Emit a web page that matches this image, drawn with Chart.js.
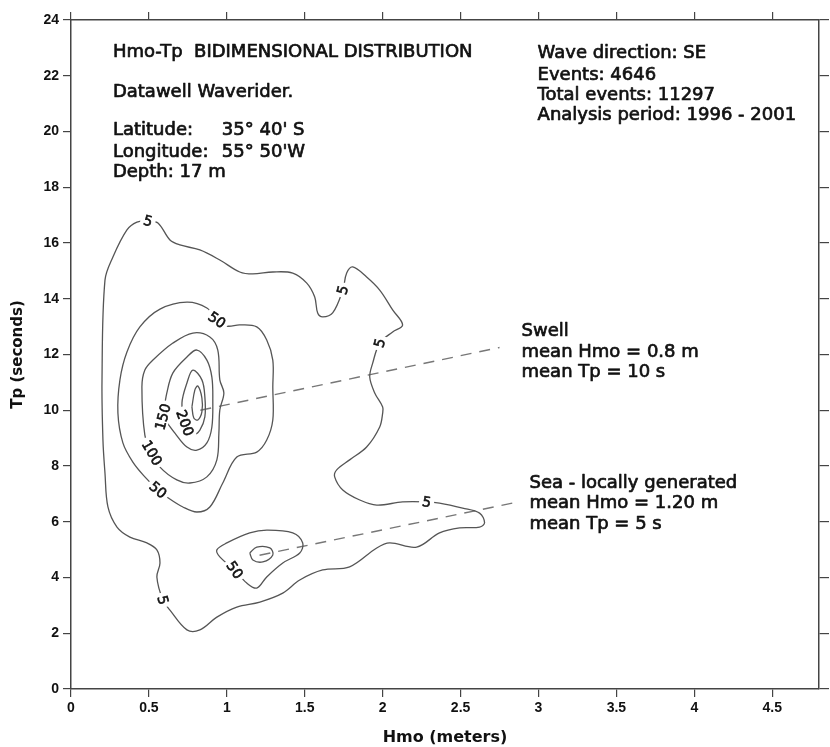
<!DOCTYPE html>
<html>
<head>
<meta charset="utf-8">
<script src="https://cdn.jsdelivr.net/npm/chart.js@4.4.1/dist/chart.umd.min.js"></script>
<style>
  html, body { margin: 0; padding: 0; background: #fff; }
  canvas { display: block; }
</style>
</head>
<body>
<canvas id="myChart" width="830" height="747"></canvas>
<script>
'use strict'

// tick labels
let xTickLabels = ['0', '0.5', '1', '1.5', '2', '2.5', '3', '3.5', '4', '4.5']
let yTickLabels = ['0', '2', '4', '6', '8', '10', '12', '14', '16', '18', '20', '22', '24']

// contour lines, points are [Hmo, Tp], each one starts (and ends) at its label
let contour5 = [
  [0.494, 16.79], [0.558, 16.72], [0.635, 16.11], [0.699, 15.93], [0.827, 15.75], [0.955, 15.39],
  [1.083, 14.96], [1.167, 14.89], [1.295, 14.96], [1.423, 14.92], [1.513, 14.56], [1.564, 14.06],
  [1.583, 13.49], [1.615, 13.35], [1.679, 13.49], [1.744, 14.31], [1.769, 14.92], [1.808, 15.14],
  [1.897, 14.78], [1.981, 14.31], [2.064, 13.60], [2.128, 13.06], [2.064, 12.81], [1.981, 12.41],
  [1.936, 11.69], [1.917, 11.19], [1.949, 10.62], [2.000, 10.12], [2.000, 9.90], [1.981, 9.40],
  [1.897, 8.68], [1.788, 8.22], [1.705, 7.86], [1.692, 7.61], [1.744, 7.14], [1.853, 6.78],
  [1.962, 6.60], [2.128, 6.71], [2.282, 6.71], [2.365, 6.67], [2.513, 6.49], [2.622, 6.31],
  [2.654, 5.96], [2.622, 5.81], [2.494, 5.78], [2.365, 5.60], [2.218, 5.09], [2.045, 5.24],
  [1.962, 5.06], [1.788, 4.38], [1.615, 4.27], [1.468, 3.91], [1.359, 3.44], [1.212, 3.12],
  [1.064, 2.94], [0.936, 2.58], [0.827, 2.12], [0.744, 2.12], [0.635, 2.83], [0.590, 3.19],
  [0.551, 4.02], [0.571, 4.52], [0.551, 4.99], [0.487, 5.24], [0.378, 5.45], [0.295, 5.81],
  [0.237, 6.53], [0.218, 7.75], [0.205, 8.93], [0.199, 11.09], [0.218, 14.67], [0.269, 15.50],
  [0.359, 16.47], [0.423, 16.75], [0.494, 16.79]
]
let contour50 = [
  [0.936, 13.24], [0.872, 13.67], [0.744, 13.88], [0.571, 13.63], [0.442, 12.99], [0.359, 12.09],
  [0.314, 11.09], [0.301, 9.90], [0.333, 8.83], [0.397, 8.14], [0.474, 7.61], [0.558, 7.14],
  [0.615, 6.89], [0.718, 6.53], [0.808, 6.35], [0.891, 6.53], [0.974, 7.39], [1.064, 8.32],
  [1.192, 8.50], [1.256, 8.93], [1.295, 9.65], [1.295, 10.83], [1.295, 11.80], [1.256, 12.52],
  [1.192, 12.99], [1.083, 13.06], [1.000, 13.02], [0.936, 13.24]
]
let contour100 = [
  [0.519, 8.47], [0.474, 9.11], [0.455, 10.83], [0.474, 11.44], [0.526, 11.80], [0.654, 12.41],
  [0.782, 12.77], [0.891, 12.63], [0.942, 12.16], [0.955, 11.09], [0.981, 10.62], [0.955, 10.01],
  [0.949, 9.18], [0.936, 8.22], [0.872, 7.61], [0.763, 7.39], [0.679, 7.50], [0.571, 7.96],
  [0.519, 8.47]
]
let contour150 = [
  [0.590, 9.76], [0.615, 10.62], [0.654, 11.34], [0.744, 11.91], [0.808, 12.16], [0.872, 11.80],
  [0.904, 11.19], [0.910, 10.37], [0.904, 9.40], [0.872, 8.83], [0.808, 8.57], [0.744, 8.68],
  [0.667, 9.18], [0.590, 9.76]
]
let contour200 = [
  [0.731, 9.54], [0.712, 10.26], [0.744, 10.98], [0.782, 11.44], [0.840, 11.09], [0.859, 10.48],
  [0.859, 9.76], [0.827, 9.29], [0.782, 9.11], [0.731, 9.54]
]
let contour250 = [
  [0.776, 10.12], [0.795, 10.73], [0.814, 10.87], [0.840, 10.44], [0.840, 9.94], [0.814, 9.65],
  [0.788, 9.72], [0.776, 10.12]
]
let seaContour50 = [
  [1.051, 4.27], [0.955, 4.74], [0.936, 4.99], [1.000, 5.24], [1.147, 5.60], [1.256, 5.70],
  [1.423, 5.60], [1.487, 5.24], [1.468, 4.88], [1.359, 4.52], [1.256, 4.02], [1.192, 3.62],
  [1.128, 3.80], [1.051, 4.27]
]
let seaContour100 = [
  [1.147, 4.88], [1.192, 5.09], [1.276, 5.06], [1.295, 4.81], [1.231, 4.56], [1.167, 4.63], [1.147, 4.88]
]

// leader lines from the two peaks to their notes
let swellLeader = [[0.83, 10.0], [2.75, 12.25]]
let seaLeader = [[1.21, 4.8], [2.86, 6.7]]

// contour level labels
let levelText = ['5', '5', '5', '5', '5', '50', '50', '50', '100', '150', '200']
let levelHmo = [0.494, 1.744, 1.981, 2.282, 0.590, 0.936, 0.558, 1.051, 0.519, 0.590, 0.731]
let levelTp = [16.79, 14.31, 12.41, 6.71, 3.19, 13.24, 7.14, 4.27, 8.47, 9.76, 9.54]
let levelAngle = [15, -75, -75, 10, 75, 35, 40, 55, 60, -75, 70]

// notes
let headerLines = ['Hmo-Tp  BIDIMENSIONAL DISTRIBUTION', 'Datawell Waverider.']
let siteNames = ['Latitude:', 'Longitude:', 'Depth: 17 m']
let siteValues = ['35° 40\' S', '55° 50\'W', '']
let recordLines = ['Wave direction: SE', 'Events: 4646', 'Total events: 11297', 'Analysis period: 1996 - 2001']
let swellLines = ['Swell', 'mean Hmo = 0.8 m', 'mean Tp = 10 s']
let seaLines = ['Sea - locally generated', 'mean Hmo = 1.20 m', 'mean Tp = 5 s']

// where the note blocks go (axis units)
let noteBlocks = [
  { lines: headerLines, x: 0.269, y: [22.85, 21.42] },
  { lines: siteNames, x: 0.269, y: [20.05, 19.26, 18.55] },
  { lines: siteValues, x: 0.968, y: [20.05, 19.26, 18.55] },
  { lines: recordLines, x: 2.994, y: [22.82, 22.03, 21.31, 20.59] },
  { lines: swellLines, x: 2.891, y: [12.84, 12.09, 11.37] },
  { lines: seaLines, x: 2.942, y: [7.39, 6.67, 5.92] }
]

const lineColor = '#555'
const axisColor = '#444'
const inkColor = '#111'

function toPoints(arr) {
  return arr.map(p => ({ x: p[0], y: p[1] }))
}

function contourSet(arr) {
  return {
    data: toPoints(arr),
    showLine: true,
    pointRadius: 0,
    borderColor: lineColor,
    borderWidth: 1.3,
    tension: 0.35,
    fill: false
  }
}

function leaderSet(arr) {
  return {
    data: toPoints(arr),
    showLine: true,
    pointRadius: 0,
    borderColor: '#777',
    borderWidth: 1.4,
    borderDash: [11, 8],
    fill: false
  }
}

// heavier text, like the scanned original
function inkText(ctx, t, x, y) {
  ctx.strokeText(t, x, y)
  ctx.fillText(t, x, y)
}

const notesPlugin = {
  id: 'notes',
  afterDatasetsDraw(chart) {
    const ctx = chart.ctx
    const xs = chart.scales.x
    const ys = chart.scales.y
    ctx.save()
    ctx.strokeStyle = inkColor
    ctx.lineJoin = 'round'
    // level labels, white box cuts the line
    ctx.font = '14px "DejaVu Sans"'
    ctx.textAlign = 'center'
    ctx.textBaseline = 'middle'
    ctx.lineWidth = 0.6
    for (let i = 0; i < levelText.length; i++) {
      let px = xs.getPixelForValue(levelHmo[i])
      let py = ys.getPixelForValue(levelTp[i])
      let w = ctx.measureText(levelText[i]).width
      ctx.save()
      ctx.translate(px, py)
      ctx.rotate(levelAngle[i] * Math.PI / 180)
      ctx.fillStyle = '#fff'
      ctx.fillRect(-w / 2 - 3, -7, w + 6, 14)
      ctx.fillStyle = inkColor
      inkText(ctx, levelText[i], 0, 1)
      ctx.restore()
    }
    // note blocks
    ctx.font = '18px "DejaVu Sans"'
    ctx.textAlign = 'left'
    ctx.fillStyle = inkColor
    ctx.lineWidth = 0.7
    noteBlocks.forEach(b => {
      b.lines.forEach((t, i) => {
        inkText(ctx, t, xs.getPixelForValue(b.x), ys.getPixelForValue(b.y[i]))
      })
    })
    ctx.restore()
  }
}

const tickFont = { family: 'Liberation Sans', size: 14, weight: 'bold' }
const gridOpts = { display: true, drawOnChartArea: false, drawTicks: true, tickLength: 8, color: axisColor, lineWidth: 1.2 }
const borderOpts = { display: true, color: axisColor, width: 1.5 }

let ctx = document.getElementById('myChart')
const myChart = new Chart(ctx, {
  type: 'scatter',
  data: {
    datasets: [
      contourSet(contour5),
      contourSet(contour50),
      contourSet(contour100),
      contourSet(contour150),
      contourSet(contour200),
      contourSet(contour250),
      contourSet(seaContour50),
      contourSet(seaContour100),
      leaderSet(swellLeader),
      leaderSet(seaLeader)
    ]
  },
  options: {
    responsive: false,
    animation: false,
    layout: { padding: 0 },
    plugins: {
      legend: { display: false },
      tooltip: { enabled: false }
    },
    scales: {
      x: {
        type: 'linear',
        position: 'bottom',
        min: 0,
        max: 4.8,
        grid: gridOpts,
        border: borderOpts,
        ticks: {
          stepSize: 0.5,
          includeBounds: false,
          maxRotation: 0,
          autoSkip: false,
          padding: 3,
          color: inkColor,
          font: tickFont,
          callback: (v, i) => xTickLabels[i]
        },
        title: {
          display: true,
          text: 'Hmo (meters)',
          color: inkColor,
          font: { family: 'DejaVu Sans', size: 16, weight: 'bold' },
          padding: { top: 0, bottom: 0 }
        },
        afterFit: s => { s.height = 58 }
      },
      xTop: {
        type: 'linear',
        position: 'top',
        min: 0,
        max: 4.8,
        grid: gridOpts,
        border: borderOpts,
        ticks: { stepSize: 0.5, includeBounds: false, display: false },
        afterFit: s => { s.height = 20 }
      },
      y: {
        type: 'linear',
        position: 'left',
        min: 0,
        max: 24,
        grid: gridOpts,
        border: borderOpts,
        ticks: {
          stepSize: 2,
          autoSkip: false,
          padding: 4,
          color: inkColor,
          font: tickFont,
          callback: (v, i) => yTickLabels[i]
        },
        title: {
          display: true,
          text: 'Tp (seconds)',
          color: inkColor,
          font: { family: 'DejaVu Sans', size: 15, weight: 'bold' },
          padding: { top: 9, bottom: 0 }
        },
        afterFit: s => { s.width = 71 }
      },
      yRight: {
        type: 'linear',
        position: 'right',
        min: 0,
        max: 24,
        grid: Object.assign({}, gridOpts, { tickLength: 10 }),
        border: borderOpts,
        ticks: { stepSize: 2, display: false },
        afterFit: s => { s.width = 11 }
      }
    }
  },
  plugins: [notesPlugin]
})
</script>
</body>
</html>
